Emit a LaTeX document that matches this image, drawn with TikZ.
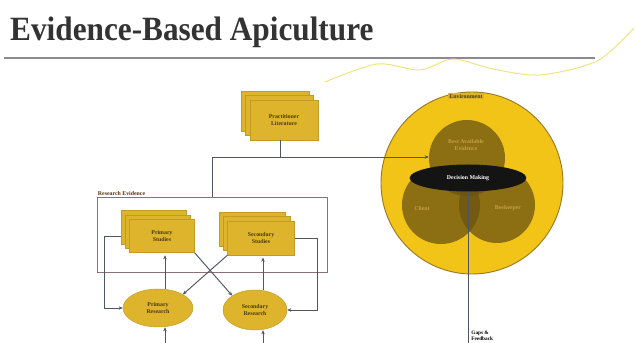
\documentclass[tikz,border=0pt]{standalone}
\usepackage{fontspec}
\setmainfont{Liberation Serif}
\newfontfamily\titlefont[FakeStretch=0.92]{Liberation Serif}
\usetikzlibrary{shadows,arrows.meta}
\definecolor{boxgold}{HTML}{DDB42C}
\definecolor{boxedge}{HTML}{C29C22}
\definecolor{linegray}{HTML}{4F5466}
\definecolor{framecol}{HTML}{8A7078}
\definecolor{envgold}{HTML}{F2C418}
\definecolor{envedge}{HTML}{9A7A2A}
\definecolor{innerbrown}{HTML}{6B5212}
\definecolor{txtbrown}{HTML}{4A3A10}
\definecolor{txtlight}{HTML}{C2A144}
\definecolor{rulegray}{HTML}{8A8A90}
\definecolor{swirl}{HTML}{F3E27A}
\newcommand{\lbl}{\fontsize{5}{5.6}\selectfont\bfseries}
\tikzset{
	stackbox/.style={draw=boxedge, fill=boxgold, text=txtbrown, font=\lbl, align=center,
		double copy shadow={shadow xshift=-0.13cm, shadow yshift=0.13cm, draw=boxedge, fill=boxgold, thin}},
	resell/.style={ellipse, draw=boxedge, fill=boxgold, text=txtbrown, font=\lbl, align=center},
	arr/.style={-{Stealth[length=3.5pt,width=3pt]}, linegray, line width=0.8pt},
	link/.style={linegray, line width=0.8pt},
	incircle/.style={circle, fill=innerbrown, fill opacity=0.75, inner sep=0pt}
}
\usetikzlibrary{shapes.geometric}
\begin{document}
\begin{tikzpicture}[x=0.03cm, y=-0.03cm]
		\useasboundingbox[fill=white] (0,0) rectangle (635,343);
		% titel en lijn
		\node[anchor=base west, inner sep=0pt, font=\titlefont\fontsize{29}{31}\selectfont\bfseries, text=black!80] (title) at (10,41) {Evidence-Based Apiculture};
		\draw[rulegray, line width=2.5pt] (4,58) -- (595,58);
		\draw[swirl, line width=0.8pt] plot[smooth] coordinates {(325,82) (377,64) (420,70) (453,59) (493,69) (540,75) (597,61) (634,28)};
		
		% onderzoeksbewijs
		\node[draw=framecol, line width=0.8pt, minimum width=6.9cm, minimum height=2.25cm] (resbox) at (212,234.5) {};
		\node[anchor=south west, inner sep=1pt, font=\lbl, text=txtbrown] (reslbl) at (resbox.north west) {Research Evidence};
		
		\node[stackbox, minimum width=2.04cm, minimum height=1.2cm] (prac) at (284,120) {Practitioner\\Literature};
		\node[stackbox, minimum width=1.95cm, minimum height=1.0cm] (prim) at (162,236) {Primary\\Studies};
		\node[stackbox, minimum width=2.0cm, minimum height=1.02cm] (sec) at (261,238) {Secondary\\Studies};
		
		\node[resell, minimum width=2.1cm, minimum height=1.14cm] (pres) at (158,308) {Primary\\Research};
		\node[resell, minimum width=1.92cm, minimum height=1.2cm] (sres) at (255,310) {Secondary\\Research};
		
		% omgeving
		\node[circle, draw=envedge, fill=envgold, line width=0.8pt, minimum size=5.46cm] (env) at (472,183) {};
		\node[fill=boxgold, inner sep=1pt, font=\lbl, text=txtbrown] (envlbl) at (466,96) {Environment};
		\node[incircle, minimum size=2.28cm] (bae) at (467,158) {};
		\node[incircle, minimum size=2.34cm] (client) at (441,205) {};
		\node[incircle, minimum size=2.28cm] (beek) at (497,205) {};
		\node[font=\lbl, text=txtlight, align=center] (baelbl) at (466,145) {Best Available\\Evidence};
		\node[font=\lbl, text=txtlight] (clientlbl) at (422,208) {Client};
		\node[font=\lbl, text=txtlight] (beeklbl) at (508,208) {Beekeeper};
		\node[ellipse, fill=black!92, text=white, font=\lbl, minimum width=3.5cm, minimum height=0.81cm] (dm) at (468,178) {Decision Making};
		
		% verbindingen
		\coordinate (jn) at (280,157);
		\coordinate (jl) at (212,157);
		\draw[link] (prac.south -| jn) -- (jn);
		\draw[link] (jl |- resbox.north) -- (jl);
		\draw[arr] (jl) -- (jl -| bae.west);
		
		\draw[arr] ([xshift=-0.24cm]prim.west) -- ++(-17,0) |- (pres.west);
		\draw[arr] (sec.east) -- ++(23,0) |- (sres.east);
		\draw[arr] (prim.south east) -- (sres.north west);
		\draw[arr] (sec.south west) -- (pres.north east);
		
		\coordinate (pbot) at (165,343);
		\coordinate (sbot) at (263,343);
		\draw[arr, shorten >=2pt] (pbot |- pres.north) -- (pbot |- prim.south);
		\draw[arr, shorten >=2pt] (sbot |- sres.north) -- (sbot |- sec.south);
		\draw[arr] (pbot) -- (pbot |- pres.south);
		\draw[arr] (sbot) -- (sbot |- sres.south);
		
		\coordinate (gbot) at (468,343);
		\draw[link] (dm.south) -- (gbot);
		\node[anchor=north west, inner sep=1pt, font=\fontsize{4.5}{4.8}\selectfont\bfseries, align=left] (gaps) at (470,330) {Gaps \&\\Feedback};
	\end{tikzpicture}
\end{document}
